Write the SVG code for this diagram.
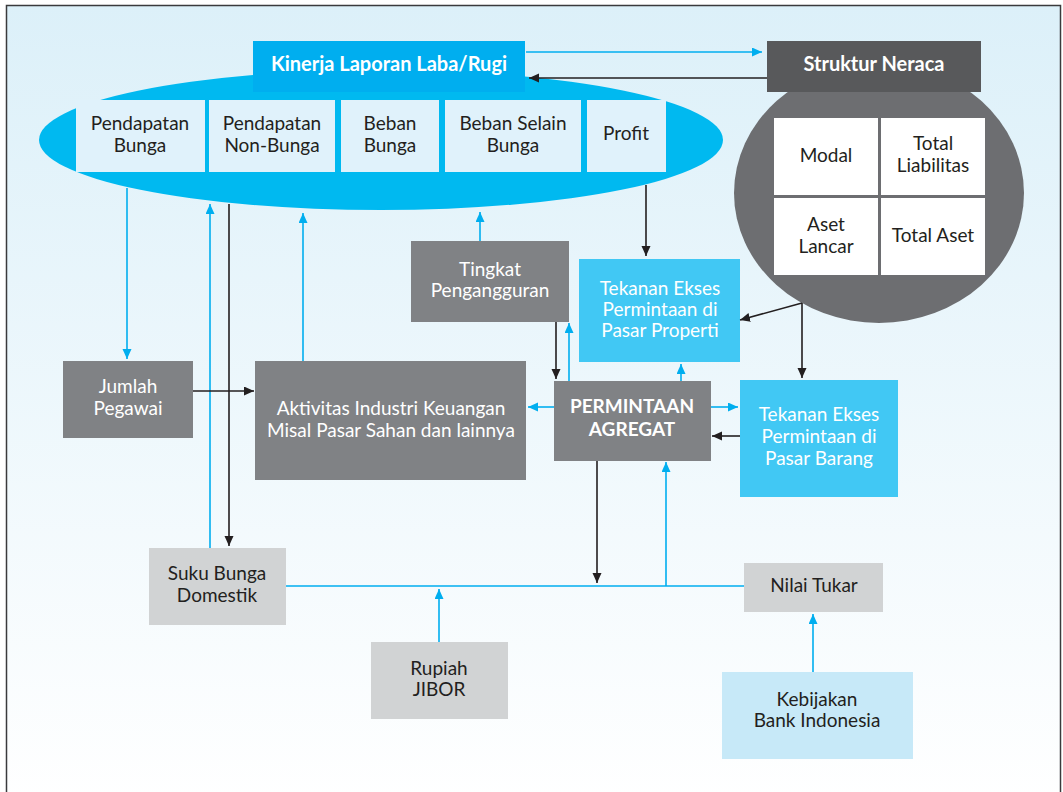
<svg xmlns="http://www.w3.org/2000/svg" width="1063" height="792" viewBox="0 0 1063 792">
<defs>
<linearGradient id="bg" x1="0" y1="0" x2="0" y2="1">
<stop offset="0" stop-color="#dcf0f9"/>
<stop offset="1" stop-color="#ffffff"/>
</linearGradient>
<marker id="ab" markerUnits="userSpaceOnUse" markerWidth="11" markerHeight="10" refX="10" refY="4.5" orient="auto">
<path d="M0,0 L10,4.5 L0,9 z" fill="#00aeef"/>
</marker>
<marker id="ak" markerUnits="userSpaceOnUse" markerWidth="11" markerHeight="10" refX="10" refY="4.5" orient="auto">
<path d="M0,0 L10,4.5 L0,9 z" fill="#231f20"/>
</marker>
</defs>
<style>
text{font-family:Lato,"Liberation Sans",sans-serif;font-size:19px;text-anchor:middle}
.d{fill:#231f20}
.w{fill:#ffffff}
.b{font-weight:bold}
.t{font-size:20px}
.gray{fill:#808285}
.lgray{fill:#d1d3d4}
.cyan{fill:#41c8f4}
.inner{fill:#e0f2fb}
.cell{fill:#ffffff}
.cb{fill:none;stroke:#00aeef;stroke-width:1.6}
.ck{fill:none;stroke:#231f20;stroke-width:1.6}
.cb.a{marker-end:url(#ab)}
.ck.a{marker-end:url(#ak)}
</style>
<rect x="6.5" y="5.5" width="1054" height="800" fill="url(#bg)" stroke="#3a3a3c" stroke-width="1.5"/>

<g id="laba-rugi">
<ellipse cx="381" cy="140" rx="342" ry="70" fill="#00b9f0"/>
<rect x="76" y="100" width="129" height="72" class="inner"/>
<rect x="209" y="100" width="126" height="72" class="inner"/>
<rect x="341" y="100" width="98" height="72" class="inner"/>
<rect x="445" y="100" width="136" height="72" class="inner"/>
<rect x="587" y="100" width="79" height="72" class="inner"/>
<text class="d" x="140" y="130">Pendapatan</text><text class="d" x="140" y="152">Bunga</text>
<text class="d" x="272" y="130">Pendapatan</text><text class="d" x="272" y="152">Non-Bunga</text>
<text class="d" x="390" y="130">Beban</text><text class="d" x="390" y="152">Bunga</text>
<text class="d" x="513" y="130">Beban Selain</text><text class="d" x="513" y="152">Bunga</text>
<text class="d" x="626" y="140">Profit</text>
</g>
<g id="kinerja">
<rect x="253" y="41" width="272" height="51" fill="#00aeef"/>
<text class="w b t" x="389" y="71">Kinerja Laporan Laba/Rugi</text>
</g>

<g id="neraca">
<ellipse cx="879" cy="193" rx="145" ry="130" fill="#6d6e71"/>
<rect x="767" y="41" width="214" height="51" fill="#58595b"/>
<text class="w b t" x="874" y="71">Struktur Neraca</text>
<rect x="774" y="118" width="104" height="77" class="cell"/>
<rect x="881" y="118" width="104" height="77" class="cell"/>
<rect x="774" y="198" width="104" height="77" class="cell"/>
<rect x="881" y="198" width="104" height="77" class="cell"/>
<text class="d" x="826" y="162">Modal</text>
<text class="d" x="933" y="150">Total</text><text class="d" x="933" y="172">Liabilitas</text>
<text class="d" x="826" y="231">Aset</text><text class="d" x="826" y="253">Lancar</text>
<text class="d" x="933" y="242">Total Aset</text>
</g>

<g id="tingkat">
<rect x="411" y="241" width="158" height="81" class="gray"/>
<text class="w" x="490" y="276">Tingkat</text><text class="w" x="490" y="297">Pengangguran</text>
</g>
<g id="jumlah">
<rect x="63" y="361" width="130" height="77" class="gray"/>
<text class="w" x="128" y="393">Jumlah</text><text class="w" x="128" y="415">Pegawai</text>
</g>
<g id="aktivitas">
<rect x="255" y="361" width="271" height="119" class="gray"/>
<text class="w" x="391" y="415">Aktivitas Industri Keuangan</text><text class="w" x="391" y="437">Misal Pasar Sahan dan lainnya</text>
</g>
<g id="properti">
<rect x="579" y="259" width="161" height="103" class="cyan"/>
<text class="w" x="660" y="295">Tekanan Ekses</text><text class="w" x="660" y="316">Permintaan di</text><text class="w" x="660" y="337">Pasar Properti</text>
</g>
<g id="permintaan">
<rect x="554" y="381" width="157" height="80" class="gray"/>
<text class="w b" x="632" y="413">PERMINTAAN</text><text class="w b" x="632" y="436">AGREGAT</text>
</g>
<g id="barang">
<rect x="740" y="380" width="158" height="117" class="cyan"/>
<text class="w" x="819" y="421">Tekanan Ekses</text><text class="w" x="819" y="443">Permintaan di</text><text class="w" x="819" y="465">Pasar Barang</text>
</g>
<g id="suku-bunga">
<rect x="149" y="548" width="137" height="77" class="lgray"/>
<text class="d" x="217" y="580">Suku Bunga</text><text class="d" x="217" y="602">Domestik</text>
</g>
<g id="rupiah">
<rect x="371" y="642" width="137" height="77" class="lgray"/>
<text class="d" x="439" y="675">Rupiah</text><text class="d" x="439" y="696">JIBOR</text>
</g>
<g id="nilai-tukar">
<rect x="744" y="563" width="139" height="49" class="lgray"/>
<text class="d" x="814" y="592">Nilai Tukar</text>
</g>
<g id="kebijakan">
<rect x="722" y="672" width="191" height="87" fill="#c7e9f8"/>
<text class="d" x="817" y="706">Kebijakan</text><text class="d" x="817" y="727">Bank Indonesia</text>
</g>

<g id="connectors">
<path class="cb a" d="M526,52 H762"/>
<path class="ck a" d="M767,78 H529"/>
<path class="cb a" d="M127,188 V359"/>
<path class="cb a" d="M210,548 V204"/>
<path class="ck a" d="M229,204 V546"/>
<path class="ck a" d="M193,391 H254"/>
<path class="cb a" d="M303,361 V213"/>
<path class="cb a" d="M480,241 V212"/>
<path class="ck a" d="M646,185 V256"/>
<path class="ck a" d="M556,322 V379"/>
<path class="cb a" d="M569,381 V323"/>
<path class="cb a" d="M681,381 V364"/>
<path class="cb a" d="M554,407 H528"/>
<path class="cb a" d="M711,407 H738"/>
<path class="ck a" d="M740,436 H712"/>
<path class="ck a" d="M802,303 L740,320"/>
<path class="ck a" d="M802,303 V378"/>
<path class="ck a" d="M597,461 V583"/>
<path class="cb" d="M286,586 H744"/>
<path class="cb a" d="M666,586 V462"/>
<path class="cb a" d="M439,642 V589"/>
<path class="cb a" d="M813,672 V614"/>
</g>
</svg>
